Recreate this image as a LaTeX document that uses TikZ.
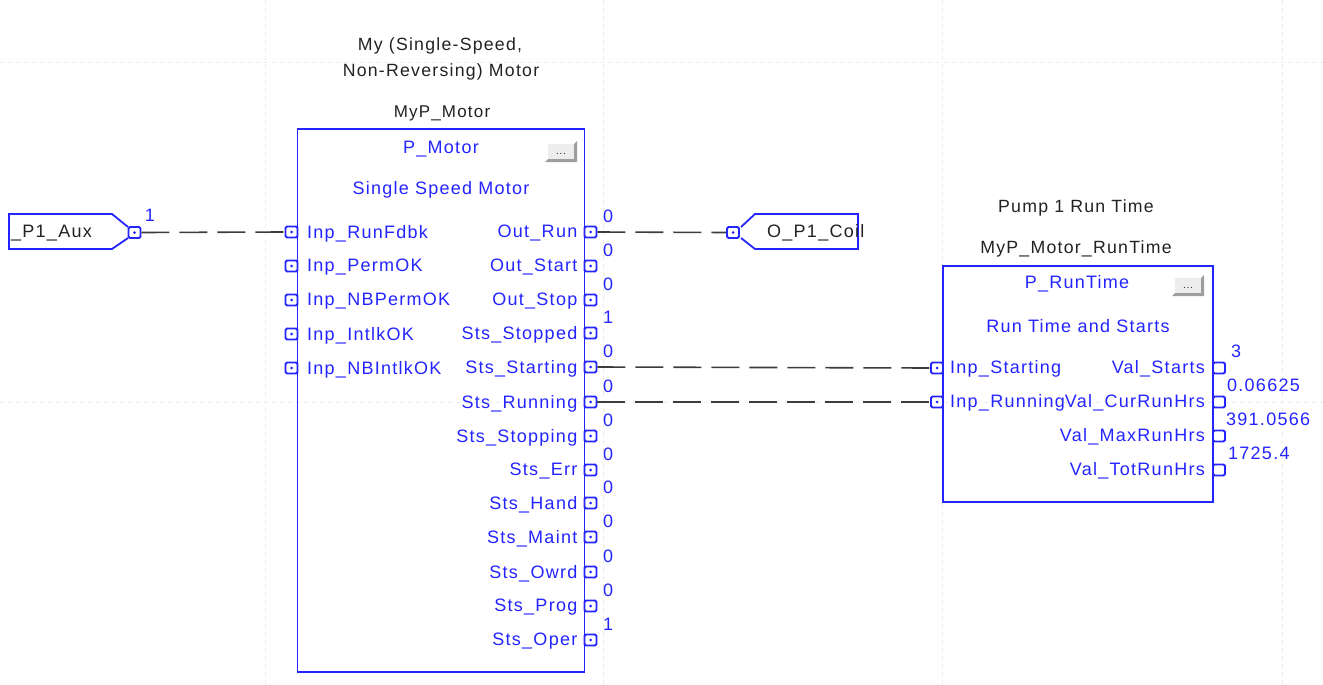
\documentclass[tikz,border=0pt]{standalone}
\usepackage{fontspec}
\setmainfont[LetterSpace=7]{Liberation Sans}
\definecolor{fbd}{HTML}{2424FF}
\definecolor{gridc}{HTML}{ECECEC}
\definecolor{wirec}{HTML}{3C3C3C}
\definecolor{inkc}{HTML}{222222}
\tikzset{
  fbdline/.style={draw=fbd,line width=1.8pt},
  blockbox/.style={fbdline,fill=none},
  portbase/.style={fbdline,rectangle,rounded corners=1.5pt,inner sep=0pt,minimum width=12pt,minimum height=11pt,fill=white},
  portdot/.style={portbase,path picture={\fill[fbd] (path picture bounding box.center) circle (1.5pt);}},
  wire/.style={draw=wirec,line width=1.6pt,dash pattern=on 28pt off 10pt},
  gridline/.style={draw=gridc,line width=0.9pt,dash pattern=on 4pt off 4pt},
  bluetxt/.style={text=fbd,inner sep=0pt,font=\fontsize{18}{20}\selectfont},
  blacktxt/.style={text=inkc,inner sep=0pt,font=\fontsize{17.7}{20}\selectfont},
  valtxt/.style={text=fbd,inner sep=0pt,font=\fontsize{18}{20}\selectfont},
  btnface/.style={fill=black!7,draw=none},
  btnshade/.style={fill=black!38,draw=none},
}
\newcommand{\fbdbutton}[2]{%
  \fill[btnshade] (#1,#2+21) -- (#1+32,#2+21) -- (#1+32,#2) -- (#1+29,#2+3) -- (#1+29,#2+18) -- (#1+3,#2+18) -- cycle;
  \fill[btnface] (#1+3,#2+3) rectangle (#1+29,#2+18);
  \node[inner sep=0pt,text=inkc,font=\fontsize{10}{10}\selectfont] at (#1+16,#2+13) {...};
}
\begin{document}
\begin{tikzpicture}[x=1pt,y=-1pt]
\useasboundingbox (0,0) rectangle (1323,685);
% grid
\draw[gridline] (0,62) -- (1323,62);
\draw[gridline] (0,402) -- (1323,402);
\foreach \gx in {265,603,942,1282} \draw[gridline] (\gx,0) -- (\gx,685);

% captions
\node[blacktxt] (capa) at (440,46) {My (Single-Speed,};
\node[blacktxt] (capb) at (441,72) {Non-Reversing) Motor};
\node[blacktxt,font=\fontsize{17}{20}\selectfont] (capc) at (442,113) {MyP\_Motor};
\node[blacktxt] (capd) at (1076,208) {Pump 1 Run Time};
\node[blacktxt] (cape) at (1076,249) {MyP\_Motor\_RunTime};

% main block
\node[blockbox,rectangle,inner sep=0pt,minimum width=287pt,minimum height=543pt] (motor) at (441,400.5) {};
\node[bluetxt] (mt) at (441,149) {P\_Motor};
\node[bluetxt] (ms) at (441,190) {Single Speed Motor};
\fbdbutton{545}{141}

% run time block
\node[blockbox,rectangle,inner sep=0pt,minimum width=270pt,minimum height=236pt] (rt) at (1078,384) {};
\node[bluetxt] (rtt) at (1077,284) {P\_RunTime};
\node[bluetxt] (rts) at (1078,326) {Run Time and Starts};
\fbdbutton{1172}{275}

% motor inputs
\foreach \nm/\yy/\tx in {runfdbk/232/Inp\_RunFdbk,permok/266/Inp\_PermOK,nbperm/300/Inp\_NBPermOK,intlk/334/Inp\_IntlkOK,nbintlk/368/Inp\_NBIntlkOK}{
  \node[portdot] (\nm) at (291.5,\yy) {};
  \node[bluetxt,anchor=west] (t\nm) at (307,\yy+1.5) {\tx};
}
% motor outputs
\foreach \nm/\yy/\tx/\vl in {outrun/232/Out\_Run/0,outstart/266/Out\_Start/0,outstop/300/Out\_Stop/0,ststopped/333/Sts\_Stopped/1,ststarting/367/Sts\_Starting/0,strunning/402/Sts\_Running/0,ststopping/436/Sts\_Stopping/0,sterr/470/Sts\_Err/0,sthand/503/Sts\_Hand/0,stmaint/537/Sts\_Maint/0,stowrd/572/Sts\_Owrd/0,stprog/606/Sts\_Prog/0,stoper/640/Sts\_Oper/1}{
  \node[portdot] (\nm) at (590.5,\yy) {};
  \node[bluetxt,anchor=east] (t\nm) at (577.5,\yy+1.5) {\tx};
  \node[valtxt] (v\nm) at (608,\yy-16) {\vl};
}
% run time inputs
\foreach \nm/\yy/\tx in {inpstarting/368/Inp\_Starting,inprunning/402/Inp\_Running}{
  \node[portdot] (\nm) at (937,\yy) {};
  \node[bluetxt,anchor=west] (t\nm) at (950,\yy+1) {\tx};
}
% run time outputs
\foreach \nm/\yy/\tx/\vl/\vx in {vstarts/368/Val\_Starts/3/1231,vcur/402/Val\_CurRunHrs/0.06625/1227,vmax/436/Val\_MaxRunHrs/391.0566/1226,vtot/470/Val\_TotRunHrs/1725.4/1228}{
  \node[portbase] (\nm) at (1219,\yy) {};
  \node[bluetxt,anchor=east] (t\nm) at (1205,\yy+1) {\tx};
  \node[valtxt,anchor=west] (v\nm) at (\vx,\yy-16.5) {\vl};
}

% tags
\draw[fbdline] (128,227) -- (112,214) -- (9,214) -- (9,249) -- (112,249) -- (128,238);
\node[portdot] (auxport) at (134.5,232.5) {};
\node[blacktxt,font=\fontsize{18}{20}\selectfont,anchor=west] (auxt) at (11,233) {\_P1\_Aux};
\node[valtxt] (auxv) at (150,215) {1};

\draw[fbdline] (741,227) -- (755,214) -- (858,214) -- (858,249) -- (755,249) -- (741,238);
\node[portdot] (coilport) at (733,232.5) {};
\node[blacktxt,font=\fontsize{18}{20}\selectfont,anchor=west] (coilt) at (767,233) {O\_P1\_Coil};

% wires
\draw[wire] (auxport.east) -- (runfdbk.west);
\draw[wire] (outrun.east) -- (coilport.west);
\draw[wire] (ststarting.east) -- (inpstarting.west);
\draw[wire] (strunning.east) -- (inprunning.west);
\end{tikzpicture}
\end{document}
